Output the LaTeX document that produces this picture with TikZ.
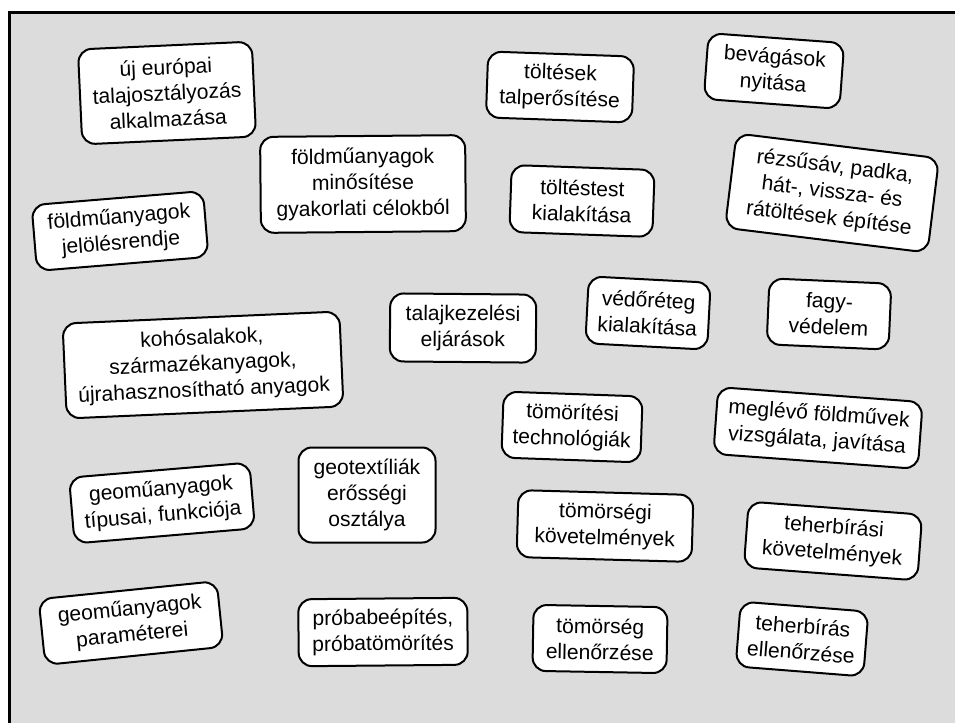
\documentclass[tikz,border=0pt]{standalone}
\usepackage{fontspec}
\setmainfont{Liberation Sans}
\begin{document}
\begin{tikzpicture}[x=0.75pt,y=-0.75pt,
  card/.style={draw, line width=1.5pt, fill=white, rounded corners=10pt, align=center,
    font=\fontsize{15.8}{19.5}\selectfont, inner sep=0pt},
  sz/.style 2 args={minimum width=#1*0.75pt, minimum height=#2*0.75pt}]
\definecolor{bggray}{RGB}{220,220,220}
\useasboundingbox (0,0) rectangle (955,722);
\clip (0,0) rectangle (955,722);
\draw[line width=2.25pt, fill=bggray] (9.5,12.5) rectangle (975,745);
\node[card, sz={174}{95}, rotate=2.6] (n1) at (167,93) {új európai\\talajosztályozás\\alkalmazása};
\node[card, sz={205}{96}, rotate=0.5] (n2) at (363,184) {földműanyagok\\minősítése\\gyakorlati célokból};
\node[card, sz={172}{66}, rotate=4.7] (n3) at (120,231) {földműanyagok\\jelölésrendje};
\node[card, sz={277}{95}, rotate=2.5] (n4) at (203,365) {kohósalakok,\\származékanyagok,\\újrahasznosítható anyagok};
\node[card, sz={146}{68}, rotate=-0.5] (n5) at (463,328) {talajkezelési\\eljárások};
\node[card, sz={146}{66}, rotate=-2] (n6) at (560,87) {töltések\\talperősítése};
\node[card, sz={136}{66}, rotate=-4.2] (n7) at (774,71) {bevágások\\nyitása};
\node[card, sz={143}{67}, rotate=-2] (n8) at (582,201) {töltéstest\\kialakítása};
\node[card, sz={204}{95}, rotate=-7] (n9) at (832,193) {rézsűsáv, padka,\\hát-, vissza- és\\rátöltések építése};
\node[card, sz={122}{67}, rotate=-3] (n10) at (648,313) {védőréteg\\kialakítása};
\node[card, sz={122}{66}, rotate=-2.5] (n11) at (829,314) {fagy-\\védelem};
\node[card, sz={139}{66}, rotate=-2] (n12) at (572,427) {tömörítési\\technológiák};
\node[card, sz={205}{67}, rotate=-4.2] (n13) at (818,428) {meglévő földművek\\vizsgálata, javítása};
\node[card, sz={175}{67}, rotate=-1.6] (n14) at (605,526) {tömörségi\\követelmények};
\node[card, sz={174}{66}, rotate=-4.3] (n15) at (833,541) {teherbírási\\követelmények};
\node[card, sz={134}{66}, rotate=-1] (n16) at (600,639) {tömörség\\ellenőrzése};
\node[card, sz={128}{65}, rotate=-4.5] (n17) at (802,639) {teherbírás\\ellenőrzése};
\node[card, sz={181}{66}, rotate=4.8] (n18) at (162,503) {geoműanyagok\\típusai, funkciója};
\node[card, sz={137}{95}, rotate=0] (n19) at (367,495) {geotextíliák\\erősségi\\osztálya};
\node[card, sz={179}{66}, rotate=5.8] (n20) at (131,623) {geoműanyagok\\paraméterei};
\node[card, sz={169}{67}, rotate=0.5] (n21) at (383,632) {próbabeépítés,\\próbatömörítés};
\end{tikzpicture}
\end{document}
